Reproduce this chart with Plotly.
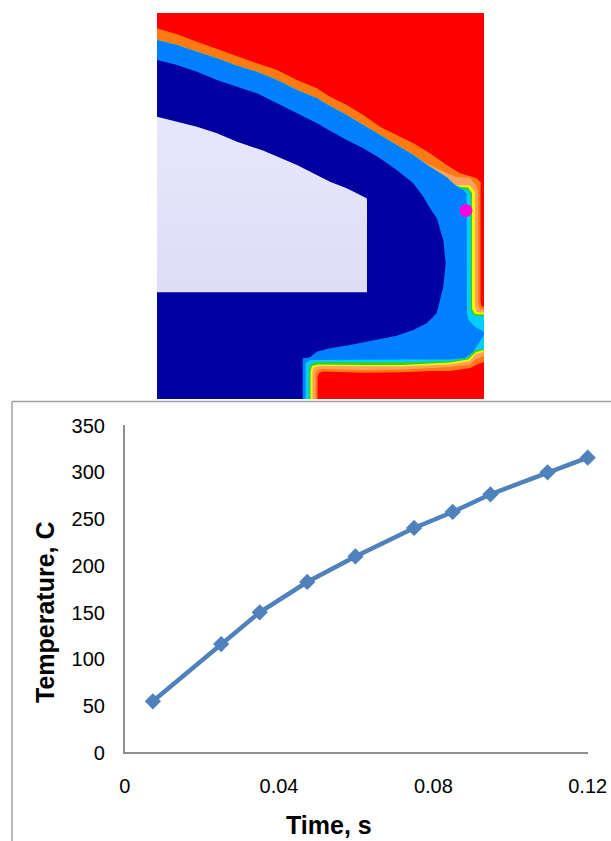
import plotly.graph_objects as go

W, H = 611, 841

# ---- Chart data
time_s = [0.0073, 0.025, 0.035, 0.0473, 0.0598, 0.075, 0.085, 0.0948, 0.1096, 0.12]
temperature_c = [54.2, 115.4, 149.3, 181.7, 209, 239.4, 256.5, 275.4, 298.9, 314.5]
x_ticks = [0, 0.04, 0.08, 0.12]
x_tick_labels = ["0", "0.04", "0.08", "0.12"]
y_ticks = [0, 50, 100, 150, 200, 250, 300, 350]
x_title = "Time, s"
y_title = "Temperature, C"

# ---- Contour picture: isoline paths (x, y in picture units)
field_x = [157, 484, 484, 157]
field_y = [13, 13, 399, 399]

band_top_x = [157, 177, 197, 217, 237, 257, 277, 297, 317, 330, 346.7, 363.3, 380, 396.7, 413.3, 430, 446.7]
band_top_y = [40, 45, 51.7, 58.3, 65.7, 71.7, 80, 90, 98.3, 106, 115, 125, 135, 145, 155, 166.7, 177.3]

orange_x = [157, 177, 197, 217, 237, 257, 277, 297, 317, 330, 346.7, 363.3, 380, 396.7, 413.3, 430, 446.7, 460,
            476.7, 481, 480.5, 480.5, 481.5, 484,
            484, 478, 470, 450, 430, 403, 363, 323, 319, 317.5, 317.5, 157]
orange_y = [28.3, 34.3, 41.7, 49, 56.7, 63.3, 70, 80, 88.3, 96.7, 105, 115, 126.7, 135, 143.3, 153.3, 165, 173.3,
            178.3, 183, 190, 300, 306.5, 306.5,
            362, 364, 368, 371, 371, 372.3, 372.7, 371.5, 373, 377, 399, 399]

light_x = band_top_x[:15] + [430, 447, 456, 470, 476, 478, 478, 480, 484,
                             484, 476, 470, 450, 403, 363, 322, 317, 315.5, 315.5, 157]
light_y = band_top_y[:15] + [165, 173, 177, 178, 185, 192, 303, 309.5, 309.5,
                             356, 359, 364.5, 367, 369.5, 370, 369, 370, 374, 399, 399]

yellow_x = band_top_x + [455, 459, 470, 475, 475, 477, 484,
                         484, 476, 470, 450, 403, 363, 320, 314, 312.5, 312.5, 157]
yellow_y = band_top_y + [185, 185, 185.5, 192, 306, 312, 312.5,
                         352, 354, 361, 364.5, 366.5, 366.5, 366, 367.5, 372, 399, 399]

green_x = band_top_x + [455, 461, 468, 472, 472, 475, 484,
                        484, 476, 468, 450, 403, 363, 318, 312, 310.5, 310.5, 157]
green_y = band_top_y + [185, 187, 187.5, 193, 309, 314, 314.5,
                        350, 352, 359.5, 362.5, 365, 365, 364.5, 366, 371, 399, 399]

cyan_x = band_top_x + [455, 463, 469, 470.5, 470.5, 474, 484,
                       484, 475, 467, 450, 403, 363, 318, 311, 309, 309, 157]
cyan_y = band_top_y + [185, 189, 191, 196, 310, 316, 316.5,
                       349, 350, 358, 361, 362, 362, 362, 363.5, 369, 399, 399]

blue_x = band_top_x + [455, 460, 463, 466.7, 467, 468.5, 475, 484,
                       484, 478, 473, 465, 450, 403, 363, 318, 310, 305.5, 305.5, 157]
blue_y = band_top_y + [185, 188.5, 189.5, 194, 313, 320, 326.7, 331.7,
                       335, 345, 352, 358, 359.5, 359.5, 359.5, 359.5, 360, 363, 399, 399]

dark_x = [157, 177, 197, 217, 237, 257, 277, 297, 317, 330, 346.7, 363.3, 380, 396.7, 413.3, 423.3, 430,
          436.7, 443.3, 445.7, 443.3, 440, 436.7, 426.7, 413.3, 396.7, 376.7, 350, 330, 316.7, 310, 302.7, 302.7, 157]
dark_y = [60, 65, 71.7, 80, 86.7, 93.3, 103.3, 113.3, 123.3, 130.7, 140, 148.3, 158.3, 170, 183.3, 196.7, 208.3,
          218, 240, 263.3, 286.7, 300, 313.3, 323.3, 330, 335.7, 340, 345, 348.3, 351.7, 357.3, 358.3, 399, 399]

core_x = [157, 177, 197, 217, 237, 263, 297, 330, 346.7, 366.7, 367, 367, 157]
core_y = [116.7, 121.7, 126.7, 133.3, 141.7, 150.5, 165, 181.7, 188.3, 198.3, 200, 292.3, 292.3]

probe_x = [466]
probe_y = [210.5]

fig = go.Figure()

layers = [
    (field_x, field_y, "#FF0000"),
    (orange_x, orange_y, "#FF7A10"),
    (light_x, light_y, "#FFA060"),
    (yellow_x, yellow_y, "#F4F400"),
    (green_x, green_y, "#30D030"),
    (cyan_x, cyan_y, "#00CFFF"),
    (blue_x, blue_y, "#0080FF"),
    (dark_x, dark_y, "#0000A0"),
]
for xs, ys, colour in layers:
    fig.add_trace(go.Scatter(x=xs, y=ys, xaxis="x2", yaxis="y2", mode="lines", fill="toself",
                             fillcolor=colour, line=dict(width=0), showlegend=False, hoverinfo="skip"))

fig.add_trace(go.Scatter(x=core_x, y=core_y, xaxis="x2", yaxis="y2", mode="lines", fill="toself",
                         fillgradient=dict(type="vertical", colorscale=[[0, "#DDDDF8"], [1, "#E7E7FB"]]),
                         line=dict(width=0), showlegend=False, hoverinfo="skip"))

fig.add_trace(go.Scatter(x=probe_x, y=probe_y, xaxis="x2", yaxis="y2", mode="markers",
                         marker=dict(symbol="circle", size=13, color="#FF00E0"),
                         showlegend=False, hoverinfo="skip"))

fig.add_trace(go.Scatter(x=time_s, y=temperature_c, mode="lines+markers", cliponaxis=False,
                         line=dict(color="#4F81BD", width=4.5),
                         marker=dict(symbol="diamond", size=12.5, color="#4F81BD"),
                         showlegend=False))

axis_font = dict(family="Liberation Sans, Arial, sans-serif", size=20, color="#000000")
title_font = dict(family="Liberation Sans, Arial, sans-serif", size=25, color="#000000", weight="bold")

fig.update_layout(
    template="none",
    width=W, height=H, autosize=False,
    margin=dict(l=0, r=0, t=0, b=0),
    paper_bgcolor="#FFFFFF", plot_bgcolor="rgba(0,0,0,0)",
    xaxis=dict(domain=[124.7 / W, 587.7 / W], range=[0, 0.12], tickmode="array", automargin=False,
               tickvals=x_ticks, ticktext=x_tick_labels, tickfont=axis_font, ticks="outside",
               ticklen=15, tickcolor="rgba(0,0,0,0)", showgrid=False, zeroline=False,
               showline=True, linecolor="#8E8E8E", linewidth=1.5),
    yaxis=dict(domain=[1 - 752 / H, 1 - 424.5 / H], range=[0, 350], tickmode="array", automargin=False,
               tickvals=y_ticks, tickfont=axis_font, ticks="outside", ticklen=14, ticklabelshift=1,
               tickcolor="rgba(0,0,0,0)", showgrid=False, zeroline=False,
               showline=True, linecolor="#8E8E8E", linewidth=1.5),
    xaxis2=dict(domain=[157 / W, 484 / W], range=[157, 484], visible=False, anchor="y2", fixedrange=True),
    yaxis2=dict(domain=[1 - 399 / H, 1 - 13 / H], range=[399, 13], visible=False, anchor="x2", fixedrange=True),
    annotations=[
        dict(text=x_title, xref="paper", yref="paper", x=329 / W, y=1 - 825 / H, xanchor="center", yanchor="middle",
             showarrow=False, font=title_font),
        dict(text=y_title, xref="paper", yref="paper", x=45 / W, y=1 - 612 / H, xanchor="center", yanchor="middle",
             textangle=-90, showarrow=False, font=title_font),
    ],
    shapes=[
        dict(type="line", xref="paper", yref="paper", x0=12 / W, x1=1, y0=1 - 401.5 / H, y1=1 - 401.5 / H,
             line=dict(color="#A0A0A0", width=1.5)),
        dict(type="line", xref="paper", yref="paper", x0=12 / W, x1=12 / W, y0=0, y1=1 - 401.5 / H,
             line=dict(color="#A0A0A0", width=1.5)),
    ],
)

fig.write_html("out.html", config={"displayModeBar": False},
               post_script="document.body.style.margin='0';document.body.style.overflow='hidden';")
